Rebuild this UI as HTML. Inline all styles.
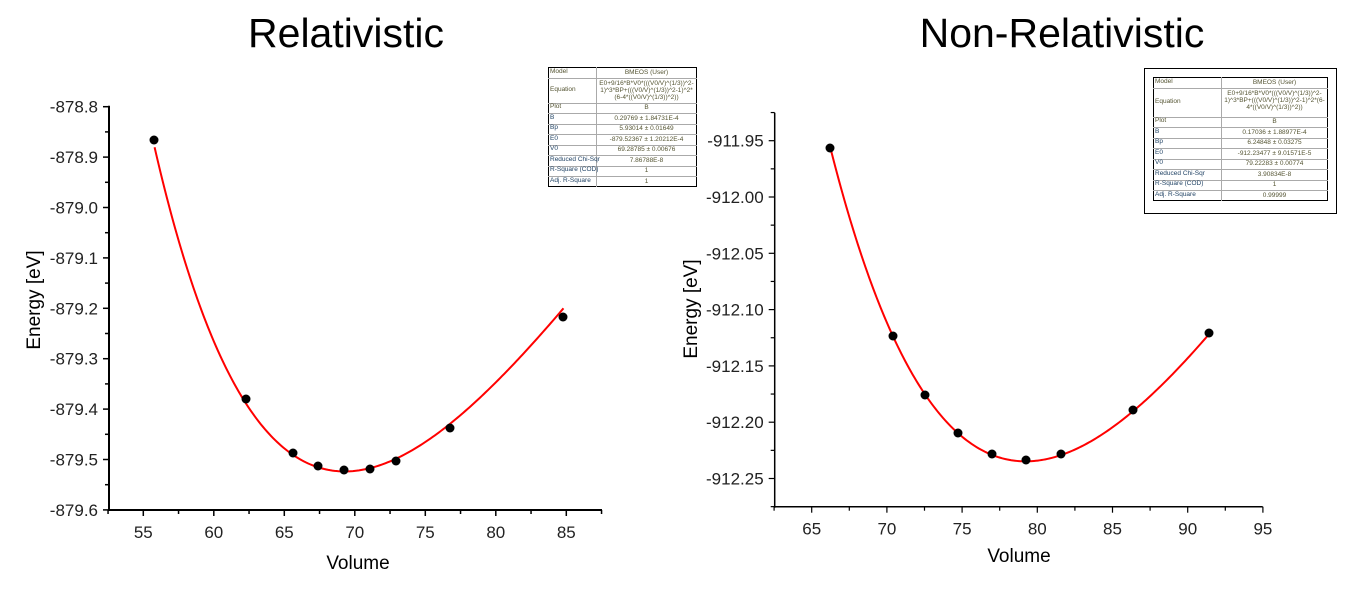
<!DOCTYPE html>
<html><head><meta charset="utf-8">
<style>
html,body{margin:0;padding:0;background:#fff;}
body{width:1353px;height:607px;position:relative;overflow:hidden;font-family:"Liberation Sans",Arial,sans-serif;}
.t{position:absolute;font-size:6.5px;line-height:1;}
</style></head><body>
<svg id="s" width="1353" height="607" xmlns="http://www.w3.org/2000/svg" style="position:absolute;left:0;top:0" font-family="Liberation Sans, Arial, sans-serif">
<text x="346" y="47" font-size="41" text-anchor="middle" fill="#000">Relativistic</text>
<text x="1062" y="47" font-size="41" text-anchor="middle" fill="#000">Non-Relativistic</text>
<text transform="translate(40,300) rotate(-90)" font-size="19" text-anchor="middle">Energy [eV]</text>
<text transform="translate(697,309) rotate(-90)" font-size="19" text-anchor="middle">Energy [eV]</text>
<text x="358" y="569" font-size="19" text-anchor="middle">Volume</text>
<text x="1019" y="562" font-size="19" text-anchor="middle">Volume</text>
<g id="g"></g>
</svg>
<script>
var g=document.getElementById('g'),h='';
function L(x1,y1,x2,y2,w){h+='<line x1="'+x1+'" y1="'+y1+'" x2="'+x2+'" y2="'+y2+'" stroke="#000" stroke-width="'+(w||1.5)+'"/>';}
function T(x,y,s,a){h+='<text x="'+x+'" y="'+y+'" font-size="17" text-anchor="'+(a||'middle')+'" fill="#222">'+s+'</text>';}
var lx0=109,lx1=602,ly0=106.7,ly1=510;
function LX(v){return 143.3+(v-55)*14.1;} function LY(e){return 106.7+(-878.8-e)*504;}
L(lx0,ly0-1,lx0,ly1+1,2);L(lx0-1,ly1,lx1,ly1,2);
for(var i=0;i<=16;i++){var e=-878.8-i*0.05,y=LY(e);L(lx0-(i%2?4:6),y,lx0,y);if(i%2==0)T(lx0-11,y+6,e.toFixed(1),'end');}
for(var v=52.5;v<=87.6;v+=2.5){var x=LX(v);var maj=Math.abs(v/5-Math.round(v/5))<1e-6;L(x,ly1,x,ly1+(maj?6:4));if(maj)T(x,ly1+28,v);}
var rx0=774.7,rx1=1262.7,ry0=112.7,ry1=506.7;
function RX(v){return 811.7+(v-65)*15.04;} function RY(e){return 140.7+(-911.95-e)*1126;}
L(rx0,ry0,rx0,ry1+1,1.5);L(rx0-1,ry1,rx1,ry1,1.5);
for(var i=-1;i<=13;i++){var e=-911.95-i*0.025,y=RY(e);if(y<ry0-0.5||y>ry1)continue;L(rx0-(i%2?4:6),y,rx0,y,1.2);if(i%2==0)T(rx0-11,y+6,e.toFixed(2),'end');}
for(var v=62.5;v<=95.1;v+=2.5){var x=RX(v);var maj=Math.abs(v/5-Math.round(v/5))<1e-6;L(x,ry1,x,ry1+(maj?6:4),1.2);if(maj)T(x,ry1+28,v);}
function bm(V,B,Bp,E0,V0){var r=Math.pow(V0/V,2/3),x=r-1;return E0+9/16*B*V0*(x*x*x*Bp+x*x*(6-4*r));}
function curve(a,b,P,fx,fy){var d='';for(var i=0;i<=200;i++){var V=a+(b-a)*i/200;d+=(i?'L':'M')+fx(V).toFixed(2)+' '+fy(bm(V,P[0],P[1],P[2],P[3])).toFixed(2);}h+='<path d="'+d+'" fill="none" stroke="#f00" stroke-width="2"/>';}
curve(55.8,84.8,[0.29769,5.93014,-879.52367,69.28785],LX,LY);
curve(66.3,91.5,[0.17036,6.24848,-912.23477,79.22283],RX,RY);
var lp=[[154,140],[246,399],[293,453],[318,466],[344,470],[370,469],[396,461],[450,428],[563,317]];
var rp=[[830,148],[893,336],[925,395],[958,433],[992,454],[1026,460],[1061,454],[1133,410],[1209,333]];
lp.concat(rp).forEach(function(p){h+='<circle cx="'+p[0]+'" cy="'+p[1]+'" r="4.5" fill="#000"/>';});
g.innerHTML=h;
function table(x,y,w,c1,rows,eqH){var s='';var rh=10.5;var cy=y;
 var tot=0;rows.forEach(function(r,i){tot+=(i==1?eqH:rh);});
 s+='<div style="position:absolute;left:'+x+'px;top:'+y+'px;width:'+w+'px;height:'+tot+'px;border:1px solid #000;box-sizing:border-box"></div>';
 s+='<div style="position:absolute;left:'+(x+c1)+'px;top:'+y+'px;width:1px;height:'+tot+'px;background:#aaa"></div>';
 rows.forEach(function(r,i){var hh=(i==1?eqH:rh);
  if(i>0)s+='<div style="position:absolute;left:'+x+'px;top:'+cy+'px;width:'+w+'px;height:1px;background:#aaa"></div>';
  s+='<div class="t" style="left:'+(x+2)+'px;top:'+(cy+hh/2-3.5)+'px;color:'+(i<3?'#553':'#246')+'">'+r[0]+'</div>';
  s+='<div class="t" style="left:'+(x+c1+1)+'px;width:'+(w-c1-2)+'px;text-align:center;top:'+(cy+(i==1?2:hh/2-3.5))+'px;color:#553;line-height:1.15">'+r[1]+'</div>';
  cy+=hh;});
 return s;}
var L1=[['Model','BMEOS (User)'],['Equation','E0+9/16*B*V0*(((V0/V)^(1/3))^2-1)^3*BP+(((V0/V)^(1/3))^2-1)^2*(6-4*((V0/V)^(1/3))^2))'],['Plot','B'],['B','0.29769 ± 1.84731E-4'],['Bp','5.93014 ± 0.01649'],['E0','-879.52367 ± 1.20212E-4'],['V0','69.28785 ± 0.00676'],['Reduced Chi-Sqr','7.86788E-8'],['R-Square (COD)','1'],['Adj. R-Square','1']];
var R1=[['Model','BMEOS (User)'],['Equation','E0+9/16*B*V0*(((V0/V)^(1/3))^2-1)^3*BP+(((V0/V)^(1/3))^2-1)^2*(6-4*((V0/V)^(1/3))^2))'],['Plot','B'],['B','0.17036 ± 1.88977E-4'],['Bp','6.24848 ± 0.03275'],['E0','-912.23477 ± 9.01571E-5'],['V0','79.22283 ± 0.00774'],['Reduced Chi-Sqr','3.90834E-8'],['R-Square (COD)','1'],['Adj. R-Square','0.99999']];
var s=table(548,67,149,48,L1,25);
s+='<div style="position:absolute;left:1144px;top:68px;width:193px;height:146px;border:1px solid #000;box-sizing:border-box"></div>';
s+=table(1153,77,175,68,R1,29);
document.body.insertAdjacentHTML('beforeend',s);
</script>
</body></html>
